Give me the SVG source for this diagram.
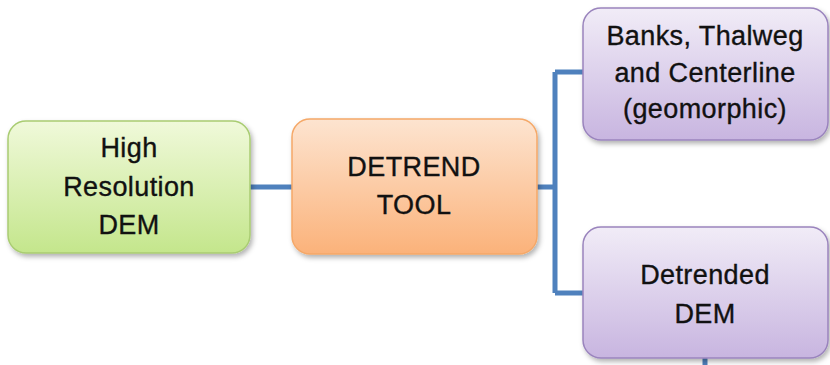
<svg xmlns="http://www.w3.org/2000/svg" width="830" height="365" viewBox="0 0 830 365">
<defs>
<linearGradient id="gGreen" x1="0" y1="0" x2="0" y2="1">
<stop offset="0" stop-color="#f0f9da"/><stop offset="1" stop-color="#c4e68c"/>
</linearGradient>
<linearGradient id="gOrange" x1="0" y1="0" x2="0" y2="1">
<stop offset="0" stop-color="#fde4d0"/><stop offset="1" stop-color="#fbb27a"/>
</linearGradient>
<linearGradient id="gPurple" x1="0" y1="0" x2="0" y2="1">
<stop offset="0" stop-color="#f1ecf7"/><stop offset="1" stop-color="#c8b5e0"/>
</linearGradient>
<filter id="sh" x="-10%" y="-10%" width="130%" height="130%">
<feDropShadow dx="2" dy="3" stdDeviation="2.5" flood-color="#000" flood-opacity="0.3"/>
</filter>
</defs>
<style>
.t{font-family:"Liberation Sans",Arial,sans-serif;font-size:27px;fill:#111;stroke:#111;stroke-width:0.35;text-anchor:middle;letter-spacing:0.4px}
.c{stroke:#4f81bd;stroke-width:5;fill:none}
</style>
<rect width="830" height="365" fill="#fff"/>
<g id="connectors">
<path class="c" d="M250 187 H292"/>
<path class="c" d="M537 187 H555 M555 72 V293 M555 72 H583 M555 293 H583"/>
<path class="c" d="M705 358 V365"/>
</g>
<g id="n1">
<rect x="8" y="121" width="242" height="132" rx="18" fill="url(#gGreen)" stroke="#a9cc72" stroke-width="1.5" filter="url(#sh)"/>
<text class="t" x="129" y="157">High</text>
<text class="t" x="129" y="196">Resolution</text>
<text class="t" x="129" y="234">DEM</text>
</g>
<g id="n2">
<rect x="292" y="119" width="245" height="135" rx="18" fill="url(#gOrange)" stroke="#f5a868" stroke-width="1.5" filter="url(#sh)"/>
<text class="t" x="414" y="176">DETREND</text>
<text class="t" x="414" y="214">TOOL</text>
</g>
<g id="n3">
<rect x="583" y="8" width="245" height="132" rx="18" fill="url(#gPurple)" stroke="#9a84bd" stroke-width="1.5" filter="url(#sh)"/>
<text class="t" x="705" y="45">Banks, Thalweg</text>
<text class="t" x="705" y="82">and Centerline</text>
<text class="t" x="705" y="118">(geomorphic)</text>
</g>
<g id="n4">
<rect x="583" y="227" width="245" height="131" rx="18" fill="url(#gPurple)" stroke="#9a84bd" stroke-width="1.5" filter="url(#sh)"/>
<text class="t" x="705" y="284">Detrended</text>
<text class="t" x="705" y="323">DEM</text>
</g>
</svg>
